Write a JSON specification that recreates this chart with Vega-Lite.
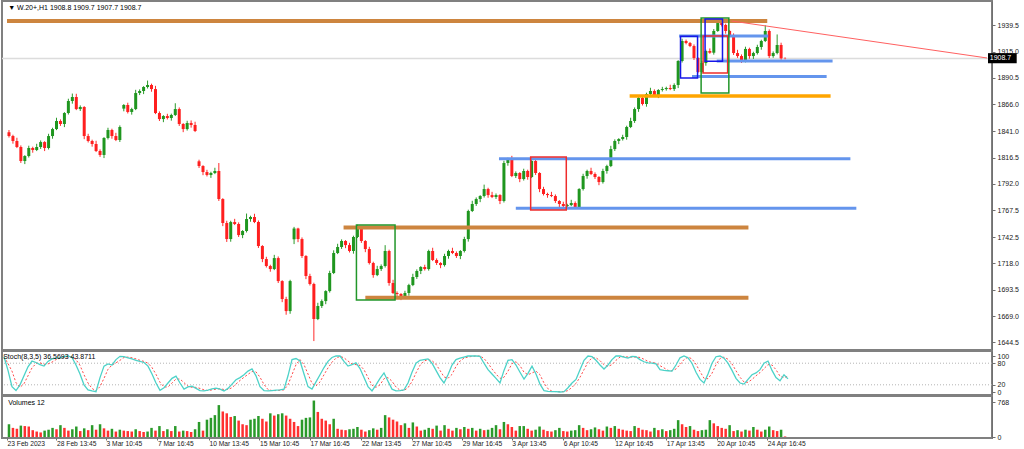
{
  "$schema": "https://vega.github.io/schema/vega-lite/v6.json",
  "padding": {"left": 0, "top": 0, "right": 0, "bottom": 0},
  "background": "white",
  "spacing": 1,
  "bounds": "flush",
  "config": {
    "view": {"stroke": "#808080", "strokeWidth": 2},
    "axis": {"labelFont": "Liberation Sans", "labelFontSize": 7, "labelColor": "#202020", "domainColor": "#707070", "tickColor": "#707070", "grid": false, "title": null},
    "text": {"font": "Liberation Sans"}
  },
  "datasets": {
    "bars": [
      {"i":0,"o":1840.0,"h":1842.1,"l":1835.1,"c":1836.5,"v":280,"k":98,"d":98},
      {"i":1,"o":1836.5,"h":1837.7,"l":1829.4,"c":1831.9,"v":200,"k":60,"d":79},
      {"i":2,"o":1831.9,"h":1834.9,"l":1825.3,"c":1826.3,"v":180,"k":15,"d":58},
      {"i":3,"o":1826.3,"h":1827.8,"l":1811.5,"c":1813.3,"v":250,"k":4,"d":26},
      {"i":4,"o":1813.3,"h":1818.7,"l":1810.4,"c":1817.9,"v":240,"k":20,"d":13},
      {"i":5,"o":1817.9,"h":1827.5,"l":1816.5,"c":1825.4,"v":230,"k":45,"d":23},
      {"i":6,"o":1825.4,"h":1826.6,"l":1821.0,"c":1823.5,"v":150,"k":70,"d":45},
      {"i":7,"o":1823.5,"h":1829.3,"l":1822.5,"c":1826.3,"v":120,"k":86,"d":67},
      {"i":8,"o":1826.3,"h":1832.4,"l":1824.5,"c":1830.9,"v":100,"k":82,"d":79},
      {"i":9,"o":1830.9,"h":1831.7,"l":1822.5,"c":1825.4,"v":140,"k":76,"d":81},
      {"i":10,"o":1825.4,"h":1838.6,"l":1824.0,"c":1836.5,"v":160,"k":72,"d":77},
      {"i":11,"o":1836.5,"h":1844.2,"l":1834.0,"c":1843.0,"v":200,"k":85,"d":78},
      {"i":12,"o":1843.0,"h":1853.5,"l":1842.0,"c":1850.5,"v":170,"k":92,"d":83},
      {"i":13,"o":1850.5,"h":1852.0,"l":1845.9,"c":1847.7,"v":260,"k":94,"d":90},
      {"i":14,"o":1847.7,"h":1858.7,"l":1844.8,"c":1857.9,"v":200,"k":95,"d":94},
      {"i":15,"o":1857.9,"h":1871.2,"l":1856.5,"c":1869.1,"v":140,"k":98,"d":96},
      {"i":16,"o":1869.1,"h":1876.0,"l":1866.6,"c":1872.8,"v":170,"k":100,"d":98},
      {"i":17,"o":1872.8,"h":1875.8,"l":1860.6,"c":1861.6,"v":230,"k":96,"d":98},
      {"i":18,"o":1861.6,"h":1865.0,"l":1859.8,"c":1863.5,"v":130,"k":75,"d":90},
      {"i":19,"o":1863.5,"h":1864.3,"l":1833.6,"c":1836.5,"v":190,"k":50,"d":74},
      {"i":20,"o":1836.5,"h":1838.6,"l":1830.5,"c":1831.9,"v":150,"k":20,"d":48},
      {"i":21,"o":1831.9,"h":1833.1,"l":1826.6,"c":1829.1,"v":260,"k":6,"d":25},
      {"i":22,"o":1829.1,"h":1832.1,"l":1821.6,"c":1822.6,"v":160,"k":3,"d":10},
      {"i":23,"o":1822.6,"h":1824.1,"l":1817.1,"c":1818.9,"v":280,"k":1,"d":3},
      {"i":24,"o":1818.9,"h":1835.5,"l":1816.0,"c":1834.7,"v":190,"k":40,"d":15},
      {"i":25,"o":1834.7,"h":1844.2,"l":1833.3,"c":1842.1,"v":140,"k":72,"d":38},
      {"i":26,"o":1842.1,"h":1843.3,"l":1834.0,"c":1836.5,"v":180,"k":78,"d":63},
      {"i":27,"o":1836.5,"h":1839.5,"l":1831.8,"c":1832.8,"v":120,"k":75,"d":75},
      {"i":28,"o":1832.8,"h":1846.4,"l":1831.0,"c":1844.9,"v":160,"k":90,"d":81},
      {"i":29,"o":1862.0,"h":1866.2,"l":1859.5,"c":1865.4,"v":140,"k":99,"d":88},
      {"i":30,"o":1865.4,"h":1867.5,"l":1857.5,"c":1858.9,"v":130,"k":98,"d":96},
      {"i":31,"o":1858.9,"h":1862.8,"l":1856.4,"c":1861.6,"v":120,"k":95,"d":97},
      {"i":32,"o":1861.6,"h":1879.5,"l":1860.6,"c":1876.5,"v":170,"k":92,"d":95},
      {"i":33,"o":1876.5,"h":1879.9,"l":1874.6,"c":1878.4,"v":130,"k":88,"d":92},
      {"i":34,"o":1878.4,"h":1882.9,"l":1875.5,"c":1882.1,"v":110,"k":85,"d":88},
      {"i":35,"o":1882.1,"h":1888.1,"l":1880.7,"c":1884.0,"v":120,"k":82,"d":85},
      {"i":36,"o":1884.0,"h":1885.2,"l":1877.7,"c":1880.2,"v":200,"k":72,"d":80},
      {"i":37,"o":1880.2,"h":1883.2,"l":1856.9,"c":1857.9,"v":140,"k":50,"d":68},
      {"i":38,"o":1857.9,"h":1859.4,"l":1850.5,"c":1852.3,"v":240,"k":25,"d":49},
      {"i":39,"o":1852.3,"h":1855.9,"l":1849.4,"c":1855.1,"v":130,"k":5,"d":27},
      {"i":40,"o":1855.1,"h":1857.2,"l":1851.9,"c":1853.3,"v":170,"k":12,"d":14},
      {"i":41,"o":1853.3,"h":1857.3,"l":1850.8,"c":1856.1,"v":130,"k":25,"d":14},
      {"i":42,"o":1856.1,"h":1867.0,"l":1855.1,"c":1861.6,"v":240,"k":38,"d":25},
      {"i":43,"o":1861.6,"h":1863.1,"l":1845.9,"c":1847.7,"v":120,"k":44,"d":36},
      {"i":44,"o":1847.7,"h":1848.5,"l":1840.1,"c":1843.0,"v":140,"k":25,"d":36},
      {"i":45,"o":1843.0,"h":1850.7,"l":1841.6,"c":1848.6,"v":130,"k":8,"d":26},
      {"i":46,"o":1848.6,"h":1851.0,"l":1844.3,"c":1846.8,"v":110,"k":14,"d":16},
      {"i":47,"o":1846.8,"h":1849.8,"l":1840.2,"c":1841.2,"v":170,"k":16,"d":13},
      {"i":48,"o":1813.0,"h":1814.5,"l":1806.8,"c":1808.6,"v":330,"k":10,"d":13},
      {"i":49,"o":1808.6,"h":1809.4,"l":1800.1,"c":1803.0,"v":140,"k":4,"d":10},
      {"i":50,"o":1803.0,"h":1805.1,"l":1798.9,"c":1800.3,"v":380,"k":3,"d":6},
      {"i":51,"o":1800.3,"h":1803.3,"l":1797.6,"c":1802.1,"v":420,"k":5,"d":4},
      {"i":52,"o":1802.1,"h":1807.0,"l":1801.1,"c":1804.0,"v":480,"k":9,"d":6},
      {"i":53,"o":1804.0,"h":1811.4,"l":1776.1,"c":1777.9,"v":700,"k":11,"d":8},
      {"i":54,"o":1777.9,"h":1778.7,"l":1752.7,"c":1755.6,"v":560,"k":8,"d":9},
      {"i":55,"o":1755.6,"h":1757.7,"l":1738.0,"c":1740.7,"v":520,"k":3,"d":7},
      {"i":56,"o":1740.7,"h":1757.7,"l":1738.2,"c":1756.5,"v":440,"k":10,"d":7},
      {"i":57,"o":1756.5,"h":1759.5,"l":1753.7,"c":1754.7,"v":460,"k":22,"d":12},
      {"i":58,"o":1754.7,"h":1756.2,"l":1742.6,"c":1744.4,"v":360,"k":34,"d":22},
      {"i":59,"o":1744.4,"h":1749.0,"l":1741.5,"c":1748.2,"v":280,"k":40,"d":32},
      {"i":60,"o":1748.2,"h":1764.4,"l":1746.8,"c":1759.3,"v":260,"k":48,"d":41},
      {"i":61,"o":1759.3,"h":1762.4,"l":1756.8,"c":1761.2,"v":380,"k":58,"d":49},
      {"i":62,"o":1761.2,"h":1764.2,"l":1755.5,"c":1756.5,"v":400,"k":64,"d":57},
      {"i":63,"o":1756.5,"h":1758.0,"l":1732.4,"c":1734.2,"v":460,"k":45,"d":56},
      {"i":64,"o":1734.2,"h":1735.0,"l":1719.2,"c":1722.1,"v":400,"k":15,"d":41},
      {"i":65,"o":1722.1,"h":1724.2,"l":1714.2,"c":1715.6,"v":340,"k":4,"d":21},
      {"i":66,"o":1715.6,"h":1716.8,"l":1710.3,"c":1712.8,"v":520,"k":3,"d":7},
      {"i":67,"o":1712.8,"h":1726.0,"l":1711.8,"c":1723.0,"v":470,"k":4,"d":4},
      {"i":68,"o":1723.0,"h":1724.5,"l":1699.8,"c":1701.6,"v":500,"k":5,"d":4},
      {"i":69,"o":1701.6,"h":1702.4,"l":1682.0,"c":1684.9,"v":520,"k":6,"d":5},
      {"i":70,"o":1684.9,"h":1687.0,"l":1670.3,"c":1673.7,"v":470,"k":8,"d":6},
      {"i":71,"o":1673.7,"h":1702.8,"l":1671.2,"c":1701.6,"v":400,"k":45,"d":20},
      {"i":72,"o":1740.5,"h":1752.0,"l":1736.0,"c":1750.5,"v":330,"k":90,"d":48},
      {"i":73,"o":1750.5,"h":1751.2,"l":1737.8,"c":1740.7,"v":240,"k":93,"d":76},
      {"i":74,"o":1740.7,"h":1742.2,"l":1723.1,"c":1724.9,"v":380,"k":86,"d":90},
      {"i":75,"o":1724.9,"h":1725.7,"l":1703.4,"c":1706.3,"v":420,"k":50,"d":76},
      {"i":76,"o":1706.3,"h":1708.4,"l":1697.5,"c":1698.9,"v":430,"k":15,"d":50},
      {"i":77,"o":1698.9,"h":1700.1,"l":1645.8,"c":1666.3,"v":800,"k":8,"d":24},
      {"i":78,"o":1666.3,"h":1681.4,"l":1665.3,"c":1678.4,"v":550,"k":28,"d":17},
      {"i":79,"o":1678.4,"h":1684.5,"l":1676.6,"c":1683.0,"v":400,"k":48,"d":28},
      {"i":80,"o":1683.0,"h":1693.1,"l":1680.1,"c":1692.3,"v":360,"k":68,"d":48},
      {"i":81,"o":1692.3,"h":1711.2,"l":1690.9,"c":1709.1,"v":280,"k":85,"d":67},
      {"i":82,"o":1709.1,"h":1730.2,"l":1708.1,"c":1727.7,"v":400,"k":96,"d":83},
      {"i":83,"o":1727.7,"h":1736.3,"l":1726.7,"c":1733.3,"v":180,"k":100,"d":94},
      {"i":84,"o":1733.3,"h":1740.4,"l":1731.5,"c":1738.9,"v":160,"k":100,"d":99},
      {"i":85,"o":1738.9,"h":1739.7,"l":1732.2,"c":1735.1,"v":150,"k":85,"d":95},
      {"i":86,"o":1735.1,"h":1737.2,"l":1728.2,"c":1729.6,"v":170,"k":72,"d":86},
      {"i":87,"o":1729.6,"h":1743.8,"l":1727.1,"c":1742.6,"v":180,"k":76,"d":78},
      {"i":88,"o":1742.6,"h":1754.0,"l":1741.6,"c":1750.9,"v":220,"k":81,"d":76},
      {"i":89,"o":1750.9,"h":1752.4,"l":1737.1,"c":1738.9,"v":160,"k":65,"d":74},
      {"i":90,"o":1738.9,"h":1739.7,"l":1728.5,"c":1731.4,"v":120,"k":40,"d":62},
      {"i":91,"o":1731.4,"h":1733.5,"l":1717.0,"c":1718.4,"v":150,"k":15,"d":40},
      {"i":92,"o":1718.4,"h":1719.6,"l":1704.7,"c":1707.2,"v":190,"k":3,"d":19},
      {"i":93,"o":1707.2,"h":1715.8,"l":1706.2,"c":1712.8,"v":160,"k":20,"d":13},
      {"i":94,"o":1712.8,"h":1717.1,"l":1711.0,"c":1715.6,"v":200,"k":38,"d":20},
      {"i":95,"o":1715.6,"h":1735.0,"l":1714.2,"c":1729.6,"v":480,"k":53,"d":37},
      {"i":96,"o":1729.6,"h":1730.8,"l":1697.3,"c":1699.8,"v":430,"k":30,"d":40},
      {"i":97,"o":1699.8,"h":1702.8,"l":1689.5,"c":1690.5,"v":380,"k":8,"d":30},
      {"i":98,"o":1690.5,"h":1692.0,"l":1687.8,"c":1689.6,"v":340,"k":3,"d":14},
      {"i":99,"o":1689.6,"h":1690.4,"l":1683.9,"c":1686.8,"v":260,"k":4,"d":5},
      {"i":100,"o":1686.8,"h":1692.6,"l":1685.4,"c":1690.5,"v":300,"k":6,"d":4},
      {"i":101,"o":1690.5,"h":1699.1,"l":1688.0,"c":1697.9,"v":200,"k":25,"d":12},
      {"i":102,"o":1697.9,"h":1708.4,"l":1696.9,"c":1705.4,"v":320,"k":55,"d":29},
      {"i":103,"o":1705.4,"h":1712.5,"l":1703.6,"c":1711.0,"v":230,"k":80,"d":53},
      {"i":104,"o":1711.0,"h":1715.5,"l":1708.1,"c":1714.7,"v":140,"k":88,"d":74},
      {"i":105,"o":1714.7,"h":1716.8,"l":1711.4,"c":1712.8,"v":160,"k":90,"d":86},
      {"i":106,"o":1712.8,"h":1730.8,"l":1711.3,"c":1729.6,"v":200,"k":92,"d":90},
      {"i":107,"o":1729.6,"h":1732.6,"l":1720.2,"c":1721.2,"v":180,"k":80,"d":87},
      {"i":108,"o":1721.2,"h":1722.7,"l":1716.6,"c":1718.4,"v":250,"k":60,"d":77},
      {"i":109,"o":1718.4,"h":1719.2,"l":1713.6,"c":1716.5,"v":140,"k":40,"d":60},
      {"i":110,"o":1716.5,"h":1727.0,"l":1715.1,"c":1724.9,"v":260,"k":25,"d":42},
      {"i":111,"o":1724.9,"h":1730.8,"l":1722.4,"c":1729.6,"v":180,"k":48,"d":38},
      {"i":112,"o":1729.6,"h":1732.6,"l":1726.7,"c":1727.7,"v":140,"k":75,"d":49},
      {"i":113,"o":1727.7,"h":1729.2,"l":1723.1,"c":1724.9,"v":200,"k":90,"d":71},
      {"i":114,"o":1724.9,"h":1730.4,"l":1722.0,"c":1729.6,"v":170,"k":94,"d":86},
      {"i":115,"o":1729.6,"h":1742.8,"l":1728.2,"c":1740.7,"v":220,"k":97,"d":94},
      {"i":116,"o":1740.7,"h":1768.0,"l":1738.3,"c":1766.8,"v":180,"k":100,"d":97},
      {"i":117,"o":1766.8,"h":1776.3,"l":1765.8,"c":1773.3,"v":200,"k":100,"d":99},
      {"i":118,"o":1773.3,"h":1779.4,"l":1771.5,"c":1777.9,"v":140,"k":100,"d":100},
      {"i":119,"o":1777.9,"h":1781.5,"l":1775.0,"c":1780.7,"v":180,"k":99,"d":100},
      {"i":120,"o":1780.7,"h":1791.3,"l":1779.3,"c":1787.2,"v":150,"k":80,"d":93},
      {"i":121,"o":1787.2,"h":1788.4,"l":1779.1,"c":1781.6,"v":160,"k":62,"d":80},
      {"i":122,"o":1781.6,"h":1784.6,"l":1778.8,"c":1779.8,"v":200,"k":50,"d":64},
      {"i":123,"o":1779.8,"h":1783.1,"l":1778.0,"c":1781.6,"v":260,"k":38,"d":50},
      {"i":124,"o":1781.6,"h":1782.4,"l":1773.2,"c":1776.1,"v":170,"k":25,"d":38},
      {"i":125,"o":1776.1,"h":1813.5,"l":1774.7,"c":1811.4,"v":330,"k":60,"d":41},
      {"i":126,"o":1811.4,"h":1816.3,"l":1808.9,"c":1815.1,"v":280,"k":88,"d":58},
      {"i":127,"o":1815.1,"h":1818.1,"l":1798.3,"c":1799.3,"v":220,"k":90,"d":79},
      {"i":128,"o":1799.3,"h":1803.6,"l":1797.5,"c":1802.1,"v":140,"k":75,"d":84},
      {"i":129,"o":1802.1,"h":1802.9,"l":1793.6,"c":1796.5,"v":240,"k":55,"d":73},
      {"i":130,"o":1796.5,"h":1806.1,"l":1795.1,"c":1804.0,"v":240,"k":36,"d":55},
      {"i":131,"o":1804.0,"h":1805.2,"l":1795.9,"c":1798.4,"v":180,"k":52,"d":48},
      {"i":132,"o":1798.4,"h":1816.3,"l":1797.4,"c":1813.3,"v":140,"k":72,"d":53},
      {"i":133,"o":1813.3,"h":1814.8,"l":1800.3,"c":1802.1,"v":160,"k":50,"d":58},
      {"i":134,"o":1802.1,"h":1802.9,"l":1784.3,"c":1787.2,"v":230,"k":22,"d":48},
      {"i":135,"o":1787.2,"h":1789.3,"l":1781.2,"c":1782.6,"v":160,"k":4,"d":25},
      {"i":136,"o":1782.6,"h":1783.8,"l":1779.1,"c":1781.6,"v":130,"k":2,"d":9},
      {"i":137,"o":1781.6,"h":1784.6,"l":1779.7,"c":1780.7,"v":120,"k":1,"d":2},
      {"i":138,"o":1780.7,"h":1782.2,"l":1774.3,"c":1776.1,"v":150,"k":1,"d":1},
      {"i":139,"o":1776.1,"h":1776.9,"l":1770.4,"c":1773.3,"v":200,"k":0,"d":1},
      {"i":140,"o":1773.3,"h":1775.4,"l":1770.0,"c":1771.4,"v":130,"k":1,"d":1},
      {"i":141,"o":1771.4,"h":1773.5,"l":1768.9,"c":1772.3,"v":120,"k":12,"d":4},
      {"i":142,"o":1772.3,"h":1777.2,"l":1771.3,"c":1774.2,"v":140,"k":25,"d":13},
      {"i":143,"o":1774.2,"h":1775.7,"l":1768.7,"c":1770.5,"v":150,"k":35,"d":24},
      {"i":144,"o":1770.5,"h":1788.0,"l":1769.6,"c":1787.2,"v":260,"k":62,"d":41},
      {"i":145,"o":1787.2,"h":1801.4,"l":1785.8,"c":1799.3,"v":200,"k":88,"d":62},
      {"i":146,"o":1799.3,"h":1805.2,"l":1796.8,"c":1804.0,"v":150,"k":100,"d":83},
      {"i":147,"o":1804.0,"h":1807.0,"l":1800.2,"c":1801.2,"v":170,"k":98,"d":95},
      {"i":148,"o":1801.2,"h":1802.7,"l":1796.6,"c":1798.4,"v":210,"k":88,"d":95},
      {"i":149,"o":1798.4,"h":1799.2,"l":1790.8,"c":1793.7,"v":170,"k":75,"d":87},
      {"i":150,"o":1793.7,"h":1806.1,"l":1792.3,"c":1804.0,"v":140,"k":64,"d":76},
      {"i":151,"o":1804.0,"h":1809.8,"l":1801.5,"c":1808.6,"v":230,"k":75,"d":71},
      {"i":152,"o":1808.6,"h":1827.4,"l":1807.6,"c":1824.4,"v":200,"k":90,"d":76},
      {"i":153,"o":1824.4,"h":1833.4,"l":1822.6,"c":1831.9,"v":240,"k":100,"d":88},
      {"i":154,"o":1831.9,"h":1834.5,"l":1829.0,"c":1833.7,"v":180,"k":100,"d":97},
      {"i":155,"o":1833.7,"h":1837.7,"l":1832.3,"c":1835.6,"v":160,"k":97,"d":99},
      {"i":156,"o":1835.6,"h":1846.1,"l":1833.1,"c":1844.9,"v":140,"k":94,"d":97},
      {"i":157,"o":1844.9,"h":1853.5,"l":1843.9,"c":1850.5,"v":130,"k":99,"d":97},
      {"i":158,"o":1850.5,"h":1863.1,"l":1848.7,"c":1861.6,"v":240,"k":98,"d":97},
      {"i":159,"o":1861.6,"h":1872.7,"l":1859.0,"c":1871.9,"v":200,"k":90,"d":96},
      {"i":160,"o":1871.9,"h":1874.0,"l":1864.9,"c":1866.3,"v":160,"k":84,"d":91},
      {"i":161,"o":1866.3,"h":1876.8,"l":1863.8,"c":1875.6,"v":150,"k":81,"d":85},
      {"i":162,"o":1875.6,"h":1881.4,"l":1874.6,"c":1878.4,"v":120,"k":80,"d":82},
      {"i":163,"o":1878.4,"h":1879.9,"l":1872.9,"c":1874.7,"v":200,"k":78,"d":80},
      {"i":164,"o":1874.7,"h":1880.1,"l":1871.8,"c":1879.3,"v":150,"k":62,"d":73},
      {"i":165,"o":1879.3,"h":1882.3,"l":1877.9,"c":1880.2,"v":170,"k":60,"d":67},
      {"i":166,"o":1880.2,"h":1882.4,"l":1878.7,"c":1881.2,"v":130,"k":59,"d":60},
      {"i":167,"o":1881.2,"h":1884.2,"l":1879.2,"c":1880.2,"v":150,"k":58,"d":59},
      {"i":168,"o":1880.2,"h":1885.5,"l":1878.4,"c":1884.0,"v":180,"k":75,"d":64},
      {"i":169,"o":1884.0,"h":1907.1,"l":1881.1,"c":1906.3,"v":370,"k":95,"d":76},
      {"i":170,"o":1906.3,"h":1927.0,"l":1904.9,"c":1924.9,"v":280,"k":100,"d":90},
      {"i":171,"o":1924.9,"h":1926.2,"l":1921.8,"c":1923.0,"v":220,"k":95,"d":97},
      {"i":172,"o":1923.0,"h":1924.0,"l":1919.2,"c":1920.2,"v":240,"k":80,"d":92},
      {"i":173,"o":1920.2,"h":1921.7,"l":1907.3,"c":1909.1,"v":160,"k":55,"d":77},
      {"i":174,"o":1909.1,"h":1909.9,"l":1895.0,"c":1896.1,"v":130,"k":35,"d":57},
      {"i":175,"o":1896.1,"h":1906.5,"l":1894.7,"c":1904.4,"v":150,"k":25,"d":38},
      {"i":176,"o":1904.4,"h":1916.8,"l":1901.9,"c":1915.6,"v":160,"k":50,"d":37},
      {"i":177,"o":1915.6,"h":1918.0,"l":1913.0,"c":1914.0,"v":370,"k":80,"d":52},
      {"i":178,"o":1914.0,"h":1936.0,"l":1912.2,"c":1934.2,"v":300,"k":98,"d":76},
      {"i":179,"o":1934.2,"h":1944.0,"l":1933.4,"c":1941.6,"v":240,"k":100,"d":93},
      {"i":180,"o":1941.6,"h":1944.5,"l":1938.4,"c":1939.8,"v":200,"k":94,"d":97},
      {"i":181,"o":1939.8,"h":1941.0,"l":1931.7,"c":1934.2,"v":180,"k":80,"d":91},
      {"i":182,"o":1934.2,"h":1935.2,"l":1929.5,"c":1930.5,"v":260,"k":60,"d":78},
      {"i":183,"o":1930.5,"h":1932.0,"l":1911.9,"c":1913.7,"v":130,"k":38,"d":59},
      {"i":184,"o":1913.7,"h":1916.7,"l":1909.2,"c":1910.9,"v":150,"k":25,"d":41},
      {"i":185,"o":1910.9,"h":1912.4,"l":1904.5,"c":1906.3,"v":120,"k":22,"d":28},
      {"i":186,"o":1906.3,"h":1919.6,"l":1905.0,"c":1917.5,"v":160,"k":35,"d":27},
      {"i":187,"o":1917.5,"h":1918.7,"l":1908.4,"c":1910.9,"v":140,"k":48,"d":35},
      {"i":188,"o":1910.9,"h":1914.9,"l":1908.2,"c":1913.7,"v":220,"k":53,"d":45},
      {"i":189,"o":1913.7,"h":1921.4,"l":1912.3,"c":1919.3,"v":160,"k":62,"d":54},
      {"i":190,"o":1919.3,"h":1926.1,"l":1916.8,"c":1924.9,"v":120,"k":80,"d":65},
      {"i":191,"o":1924.9,"h":1939.5,"l":1923.9,"c":1934.2,"v":160,"k":86,"d":76},
      {"i":192,"o":1934.2,"h":1935.7,"l":1909.1,"c":1910.9,"v":230,"k":60,"d":75},
      {"i":193,"o":1910.9,"h":1915.2,"l":1909.3,"c":1913.7,"v":150,"k":40,"d":62},
      {"i":194,"o":1913.7,"h":1931.0,"l":1912.5,"c":1921.2,"v":130,"k":31,"d":44},
      {"i":195,"o":1921.2,"h":1923.3,"l":1907.4,"c":1908.8,"v":160,"k":48,"d":40},
      {"i":196,"o":1908.8,"h":1909.7,"l":1907.7,"c":1908.7,"v":12,"k":36.57,"d":43.87}
    ],
    "levels": [
      {"obj":"brown","x1":-0.5,"x2":191.5,"p":1943.5},
      {"obj":"brown","x1":84.5,"x2":186.75,"p":1751.4},
      {"obj":"brown","x1":90,"x2":186.75,"p":1686.1},
      {"obj":"orange","x1":156.75,"x2":207.5,"p":1873.7},
      {"obj":"blue","x1":169.25,"x2":191.75,"p":1929.5},
      {"obj":"blue","x1":178.75,"x2":208,"p":1906.3},
      {"obj":"blue","x1":172.5,"x2":206.5,"p":1891.9},
      {"obj":"blue","x1":123.75,"x2":212.5,"p":1815.4},
      {"obj":"blue","x1":128,"x2":214,"p":1769.3}
    ],
    "boxes": [
      {"obj":"green","x1":87.75,"x2":97.5,"p1":1753.7,"p2":1683.9},
      {"obj":"red","x1":131.75,"x2":140.75,"p1":1817.0,"p2":1767.7},
      {"obj":"blue","x1":169.6,"x2":173.9,"p1":1929.3,"p2":1890.5},
      {"obj":"red","x1":175.3,"x2":181.5,"p1":1929.5,"p2":1895.1},
      {"obj":"green","x1":174.8,"x2":181.8,"p1":1946.3,"p2":1876.5},
      {"obj":"blue","x1":175.8,"x2":180.2,"p1":1945.4,"p2":1906.0}
    ],
    "trend": [
      {"x1":182.5,"p1":1943.5,"x2":247,"p2":1909.1}
    ]
  },
  "vconcat": [
    {
      "width": 990,
      "height": 349,
      "layer": [
        {
          "data": {"values": [{"p": 1908.7}]},
          "mark": {"type": "rule", "color": "#dcdcdc", "strokeWidth": 1.5},
          "encoding": {
            "y": {"field": "p", "type": "quantitative", "scale": {"domain": [1637.5, 1962.1], "nice": false, "zero": false},
              "axis": {"orient": "right", "values": [1644.5, 1669, 1693.5, 1718, 1742.5, 1767.5, 1792, 1816.5, 1841, 1866, 1890.5, 1915, 1939.5], "format": ".1f", "tickSize": 3, "labelPadding": 2}}
          }
        },
        {
          "data": {"name": "bars"},
          "mark": {"type": "rule", "strokeWidth": 1},
          "encoding": {
            "x": {"field": "i", "type": "quantitative", "scale": {"domain": [-0.5, 247], "nice": false, "zero": false}, "axis": null},
            "y": {"field": "l", "type": "quantitative", "scale": {"domain": [1637.5, 1962.1], "nice": false, "zero": false},
              "axis": {"orient": "right", "values": [1644.5, 1669, 1693.5, 1718, 1742.5, 1767.5, 1792, 1816.5, 1841, 1866, 1890.5, 1915, 1939.5], "format": ".1f", "tickSize": 3, "labelPadding": 2}},
            "y2": {"field": "h"},
            "color": {"condition": {"test": "datum.c >= datum.o", "value": "#2a9a2a"}, "value": "#ff2a2a"}
          }
        },
        {
          "data": {"name": "bars"},
          "mark": {"type": "bar", "size": 3},
          "encoding": {
            "x": {"field": "i", "type": "quantitative", "scale": {"domain": [-0.5, 247], "nice": false, "zero": false}, "axis": null},
            "y": {"field": "o", "type": "quantitative", "scale": {"domain": [1637.5, 1962.1], "nice": false, "zero": false},
              "axis": {"orient": "right", "values": [1644.5, 1669, 1693.5, 1718, 1742.5, 1767.5, 1792, 1816.5, 1841, 1866, 1890.5, 1915, 1939.5], "format": ".1f", "tickSize": 3, "labelPadding": 2}},
            "y2": {"field": "c"},
            "color": {"condition": {"test": "datum.c >= datum.o", "value": "#1f961f"}, "value": "#ff1f1f"}
          }
        },
        {
          "data": {"name": "levels"},
          "mark": {"type": "rule"},
          "encoding": {
            "x": {"field": "x1", "type": "quantitative", "scale": {"domain": [-0.5, 247], "nice": false, "zero": false}, "axis": null},
            "x2": {"field": "x2"},
            "y": {"field": "p", "type": "quantitative", "scale": {"domain": [1637.5, 1962.1], "nice": false, "zero": false},
              "axis": {"orient": "right", "values": [1644.5, 1669, 1693.5, 1718, 1742.5, 1767.5, 1792, 1816.5, 1841, 1866, 1890.5, 1915, 1939.5], "format": ".1f", "tickSize": 3, "labelPadding": 2}},
            "color": {"field": "obj", "type": "nominal", "scale": {"domain": ["brown", "orange", "blue"], "range": ["#cd853f", "#ffa500", "#6495ed"]}, "legend": null},
            "size": {"field": "obj", "type": "nominal", "scale": {"domain": ["brown", "orange", "blue"], "range": [4, 3, 4.5]}, "legend": null}
          }
        },
        {
          "data": {"name": "boxes"},
          "mark": {"type": "rect", "fillOpacity": 0, "strokeWidth": 1.5},
          "encoding": {
            "x": {"field": "x1", "type": "quantitative", "scale": {"domain": [-0.5, 247], "nice": false, "zero": false}, "axis": null},
            "x2": {"field": "x2"},
            "y": {"field": "p1", "type": "quantitative", "scale": {"domain": [1637.5, 1962.1], "nice": false, "zero": false},
              "axis": {"orient": "right", "values": [1644.5, 1669, 1693.5, 1718, 1742.5, 1767.5, 1792, 1816.5, 1841, 1866, 1890.5, 1915, 1939.5], "format": ".1f", "tickSize": 3, "labelPadding": 2}},
            "y2": {"field": "p2"},
            "stroke": {"field": "obj", "type": "nominal", "scale": {"domain": ["green", "red", "blue"], "range": ["#22962a", "#ee2c2c", "#1616e8"]}, "legend": null}
          }
        },
        {
          "data": {"name": "trend"},
          "mark": {"type": "rule", "color": "#ff6060", "strokeWidth": 1},
          "encoding": {
            "x": {"field": "x1", "type": "quantitative", "scale": {"domain": [-0.5, 247], "nice": false, "zero": false}, "axis": null},
            "x2": {"field": "x2"},
            "y": {"field": "p1", "type": "quantitative", "scale": {"domain": [1637.5, 1962.1], "nice": false, "zero": false},
              "axis": {"orient": "right", "values": [1644.5, 1669, 1693.5, 1718, 1742.5, 1767.5, 1792, 1816.5, 1841, 1866, 1890.5, 1915, 1939.5], "format": ".1f", "tickSize": 3, "labelPadding": 2}},
            "y2": {"field": "p2"}
          }
        },
        {
          "data": {"values": [{"t": "1908.7"}]},
          "mark": {"type": "rect", "color": "#000000"},
          "encoding": {
            "x": {"datum": 247.25, "scale": {"domain": [-0.5, 247], "nice": false, "zero": false}, "axis": null},
            "x2": {"datum": 254.5},
            "y": {"datum": 1913.6, "scale": {"domain": [1637.5, 1962.1], "nice": false, "zero": false},
              "axis": {"orient": "right", "values": [1644.5, 1669, 1693.5, 1718, 1742.5, 1767.5, 1792, 1816.5, 1841, 1866, 1890.5, 1915, 1939.5], "format": ".1f", "tickSize": 3, "labelPadding": 2}},
            "y2": {"datum": 1904.2}
          }
        },
        {
          "data": {"values": [{"t": "1908.7"}]},
          "mark": {"type": "text", "align": "left", "baseline": "middle", "fontSize": 7, "color": "#ffffff"},
          "encoding": {
            "x": {"datum": 247.7, "scale": {"domain": [-0.5, 247], "nice": false, "zero": false}, "axis": null},
            "y": {"datum": 1908.9, "scale": {"domain": [1637.5, 1962.1], "nice": false, "zero": false},
              "axis": {"orient": "right", "values": [1644.5, 1669, 1693.5, 1718, 1742.5, 1767.5, 1792, 1816.5, 1841, 1866, 1890.5, 1915, 1939.5], "format": ".1f", "tickSize": 3, "labelPadding": 2}},
            "text": {"field": "t"}
          }
        },
        {
          "data": {"values": [{"t": "▼ W.20+,H1  1908.8 1909.7 1907.7 1908.7"}]},
          "mark": {"type": "text", "align": "left", "baseline": "middle", "fontSize": 7, "color": "#000000"},
          "encoding": {
            "x": {"datum": -0.2, "scale": {"domain": [-0.5, 247], "nice": false, "zero": false}, "axis": null},
            "y": {"datum": 1955.6, "scale": {"domain": [1637.5, 1962.1], "nice": false, "zero": false},
              "axis": {"orient": "right", "values": [1644.5, 1669, 1693.5, 1718, 1742.5, 1767.5, 1792, 1816.5, 1841, 1866, 1890.5, 1915, 1939.5], "format": ".1f", "tickSize": 3, "labelPadding": 2}},
            "text": {"field": "t"}
          }
        }
      ]
    },
    {
      "width": 990,
      "height": 44,
      "layer": [
        {
          "data": {"values": [{"lv": 20}, {"lv": 80}]},
          "mark": {"type": "rule", "color": "#b4b4b4", "strokeDash": [1, 2], "strokeWidth": 1},
          "encoding": {
            "y": {"field": "lv", "type": "quantitative", "scale": {"domain": [-8.3, 113.9], "nice": false, "zero": false},
              "axis": {"orient": "right", "values": [0, 20, 80, 100], "tickSize": 3, "labelPadding": 2, "labelOverlap": false}}
          }
        },
        {
          "data": {"name": "bars"},
          "mark": {"type": "line", "color": "#ff4a4a", "strokeWidth": 1, "strokeDash": [2, 2]},
          "encoding": {
            "x": {"field": "i", "type": "quantitative", "scale": {"domain": [-0.5, 247], "nice": false, "zero": false}, "axis": null},
            "y": {"field": "d", "type": "quantitative", "scale": {"domain": [-8.3, 113.9], "nice": false, "zero": false},
              "axis": {"orient": "right", "values": [0, 20, 80, 100], "tickSize": 3, "labelPadding": 2, "labelOverlap": false}}
          }
        },
        {
          "data": {"name": "bars"},
          "mark": {"type": "line", "color": "#4dd2c8", "strokeWidth": 1.3},
          "encoding": {
            "x": {"field": "i", "type": "quantitative", "scale": {"domain": [-0.5, 247], "nice": false, "zero": false}, "axis": null},
            "y": {"field": "k", "type": "quantitative", "scale": {"domain": [-8.3, 113.9], "nice": false, "zero": false},
              "axis": {"orient": "right", "values": [0, 20, 80, 100], "tickSize": 3, "labelPadding": 2, "labelOverlap": false}}
          }
        },
        {
          "data": {"values": [{"t": "Stoch(8,3,5) 36.5693 43.8711"}]},
          "mark": {"type": "text", "align": "left", "baseline": "middle", "fontSize": 7, "color": "#000000"},
          "encoding": {
            "x": {"datum": -0.2, "scale": {"domain": [-0.5, 247], "nice": false, "zero": false}, "axis": null},
            "y": {"datum": 97.2, "scale": {"domain": [-8.3, 113.9], "nice": false, "zero": false},
              "axis": {"orient": "right", "values": [0, 20, 80, 100], "tickSize": 3, "labelPadding": 2, "labelOverlap": false}},
            "text": {"field": "t"}
          }
        }
      ]
    },
    {
      "width": 990,
      "height": 42,
      "layer": [
        {
          "data": {"name": "bars"},
          "transform": [
            {"window": [{"op": "lag", "field": "v", "as": "pv"}], "sort": [{"field": "i"}]}
          ],
          "mark": {"type": "bar", "size": 2.5},
          "encoding": {
            "x": {"field": "i", "type": "quantitative", "scale": {"domain": [-0.5, 247], "nice": false, "zero": false},
              "axis": {"values": [-0.5, 12, 24.5, 37.5, 50.5, 63.25, 76, 89, 101.75, 114.5, 127, 140, 153, 166, 178.75, 191.5],
                "labelExpr": "{'-0.5':'23 Feb 2023','12':'28 Feb 13:45','24.5':'3 Mar 10:45','37.5':'7 Mar 16:45','50.5':'10 Mar 13:45','63.25':'15 Mar 10:45','76':'17 Mar 16:45','89':'22 Mar 13:45','101.75':'27 Mar 10:45','114.5':'29 Mar 16:45','127':'3 Apr 13:45','140':'6 Apr 10:45','153':'12 Apr 16:45','166':'17 Apr 13:45','178.75':'20 Apr 10:45','191.5':'24 Apr 16:45'}['' + datum.value]",
                "labelAlign": "left", "labelBaseline": "top", "labelPadding": 0, "labelDx": 1, "labelFontSize": 6.7, "tickSize": 2, "labelFlush": false, "labelOverlap": false, "domain": false}},
            "y": {"field": "v", "type": "quantitative", "scale": {"domain": [-21.9, 899.7], "nice": false, "zero": false},
              "axis": {"orient": "right", "values": [0, 768], "tickSize": 3, "labelPadding": 2}},
            "color": {"condition": {"test": "datum.pv == null || datum.v >= datum.pv", "value": "#2a9a2a"}, "value": "#ff3030"}
          }
        },
        {
          "data": {"values": [{"t": "Volumes 12"}]},
          "mark": {"type": "text", "align": "left", "baseline": "middle", "fontSize": 7, "color": "#000000"},
          "encoding": {
            "x": {"datum": -0.2, "scale": {"domain": [-0.5, 247], "nice": false, "zero": false},
              "axis": {"values": [-0.5, 12, 24.5, 37.5, 50.5, 63.25, 76, 89, 101.75, 114.5, 127, 140, 153, 166, 178.75, 191.5],
                "labelExpr": "{'-0.5':'23 Feb 2023','12':'28 Feb 13:45','24.5':'3 Mar 10:45','37.5':'7 Mar 16:45','50.5':'10 Mar 13:45','63.25':'15 Mar 10:45','76':'17 Mar 16:45','89':'22 Mar 13:45','101.75':'27 Mar 10:45','114.5':'29 Mar 16:45','127':'3 Apr 13:45','140':'6 Apr 10:45','153':'12 Apr 16:45','166':'17 Apr 13:45','178.75':'20 Apr 10:45','191.5':'24 Apr 16:45'}['' + datum.value]",
                "labelAlign": "left", "labelBaseline": "top", "labelPadding": 0, "labelDx": 1, "labelFontSize": 6.7, "tickSize": 2, "labelFlush": false, "labelOverlap": false, "domain": false}},
            "y": {"datum": 746, "scale": {"domain": [-21.9, 899.7], "nice": false, "zero": false},
              "axis": {"orient": "right", "values": [0, 768], "tickSize": 3, "labelPadding": 2}},
            "text": {"field": "t"}
          }
        }
      ]
    }
  ]
}
